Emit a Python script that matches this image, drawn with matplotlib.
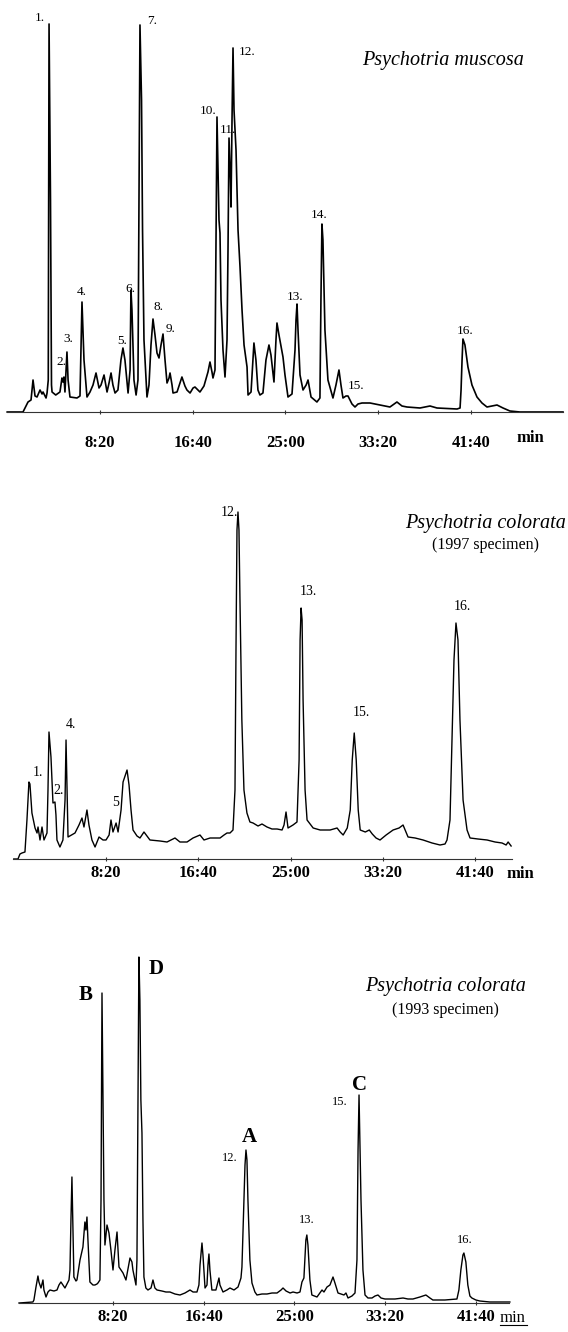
import matplotlib
matplotlib.use("Agg")
import matplotlib.pyplot as plt
from matplotlib.lines import Line2D

plt.rcParams['font.family'] = ['Liberation Serif', 'DejaVu Serif']

# --- data: retention time (min) and detector signal (arbitrary units) ---

# Psychotria muscosa
t_musc = [0.00, 1.42, 1.87, 2.14, 2.32, 2.50, 2.68, 2.95, 3.13, 3.22, 3.49, 3.58, 3.69, 3.76, 3.89, 3.98,
          4.03, 4.36, 4.74, 4.92, 5.01, 5.10, 5.19, 5.37, 5.47, 5.64, 6.27, 6.54, 6.72, 6.90, 7.17, 7.44,
          7.71, 7.98, 8.25, 8.43, 8.70, 8.97, 9.15, 9.33, 9.50, 9.69, 9.95, 10.22, 10.40, 10.58, 10.86,
          11.04, 11.12, 11.21, 11.39, 11.58, 11.75, 11.84, 11.93, 12.07, 12.16, 12.29, 12.56, 12.74,
          12.92, 13.10, 13.28, 13.46, 13.64, 13.82, 14.00, 14.18, 14.36, 14.54, 14.63, 14.81, 14.90,
          15.26, 15.70, 15.97, 16.15, 16.43, 16.70, 16.87, 17.14, 17.32, 17.68, 18.04, 18.22, 18.40,
          18.49, 18.67, 18.76, 18.85, 18.94, 19.03, 19.12, 19.21, 19.39, 19.57, 19.75, 19.84, 19.93,
          20.06, 20.11, 20.20, 20.29, 20.38, 20.56, 20.74, 20.92, 21.10, 21.28, 21.55, 21.64, 21.91,
          22.17, 22.35, 22.53, 22.71, 22.98, 23.25, 23.52, 23.70, 23.97, 24.15, 24.24, 24.42, 24.78,
          24.96, 25.23, 25.59, 25.86, 25.95, 26.04, 26.13, 26.31, 26.58, 26.86, 27.03, 27.30, 27.83,
          28.10, 28.19, 28.28, 28.37, 28.55, 28.82, 29.27, 29.54, 29.81, 29.99, 30.17, 30.44, 30.62,
          30.98, 31.25, 31.52, 31.88, 32.60, 33.50, 34.39, 35.02, 35.47, 35.92, 37.09, 37.99, 38.62,
          40.42, 40.69, 40.78, 40.87, 40.95, 41.13, 41.40, 41.76, 42.21, 42.66, 43.11, 43.56, 44.01,
          44.55, 45.17, 46.07, 49.94]
s_musc = [0, 0, 10, 12, 32, 16, 15, 22, 18, 20, 14, 19, 32, 388, 212, 27,
          20, 17, 20, 34, 30, 35, 20, 60, 32, 15, 14, 16, 110, 52, 15, 20,
          27, 39, 24, 27, 37, 20, 29, 39, 27, 19, 22, 52, 64, 52, 19,
          42, 122, 102, 32, 17, 32, 212, 387, 312, 182, 72, 15, 27,
          67, 93, 77, 59, 54, 67, 78, 52, 29, 34, 39, 27, 19,
          20, 35, 26, 22, 19, 24, 25, 22, 20, 26, 40, 50, 40,
          34, 42, 162, 295, 242, 192, 179, 112, 62, 35, 72, 162, 274,
          232, 205, 292, 364, 302, 262, 182, 145, 102, 67, 45, 17, 20,
          69, 52, 22, 17, 19, 52, 67, 57, 30, 72, 89, 77, 55,
          37, 15, 18, 62, 92, 108, 82, 37, 22, 27, 32, 15, 10,
          14, 112, 188, 172, 82, 32, 14, 27, 42, 27, 14, 16, 16,
          8, 5, 8, 9, 9, 7, 5, 10, 6, 5, 4, 6, 4,
          3, 4, 22, 52, 73, 67, 45, 27, 15, 9, 5, 6, 7,
          4, 1, 0, 0]

# Psychotria colorata, 1997 specimen
t_col97 = [0.00, 0.38, 0.56, 0.74, 1.01, 1.19, 1.37, 1.46, 1.64, 1.92, 2.10, 2.19, 2.37, 2.55, 2.73, 3.00,
           3.09, 3.18, 3.27, 3.36, 3.54, 3.72, 3.81, 3.90, 4.17, 4.44, 4.63, 4.72, 4.81, 4.90, 5.53,
           5.89, 6.16, 6.34, 6.61, 6.79, 7.06, 7.34, 7.70, 8.06, 8.33, 8.61, 8.78, 8.96, 9.24, 9.42,
           9.69, 9.87, 10.23, 10.41, 10.59, 10.77, 11.13, 11.40, 11.76, 12.03, 12.30, 13.21, 13.84,
           14.56, 15.01, 15.65, 16.19, 16.82, 17.18, 17.73, 18.63, 18.99, 19.26, 19.53, 19.80, 19.98,
           20.07, 20.16, 20.25, 20.34, 20.43, 20.60, 20.79, 21.06, 21.33, 21.61, 22.06, 22.42, 22.87,
           23.32, 23.78, 24.23, 24.41, 24.59, 24.77, 25.22, 25.58, 25.77, 25.86, 25.95, 26.04, 26.13,
           26.31, 26.49, 27.04, 27.67, 28.57, 29.20, 29.48, 29.75, 30.12, 30.39, 30.57, 30.75, 30.93,
           31.11, 31.29, 31.75, 32.11, 32.38, 32.72, 33.08, 33.63, 34.26, 34.80, 35.16, 35.61, 36.25,
           36.97, 37.78, 38.50, 38.95, 39.13, 39.40, 39.58, 39.76, 39.94, 40.12, 40.30, 40.58, 40.94,
           41.21, 41.93, 42.75, 43.47, 44.10, 44.47, 44.65, 44.92]
s_col97 = [0, 0, 5, 6, 7, 39, 77, 75, 46, 31, 26, 32, 19, 32, 19, 26,
           69, 127, 114, 102, 56, 57, 44, 19, 12, 19, 59, 119, 69, 22, 26,
           34, 41, 32, 49, 34, 19, 12, 22, 19, 19, 24, 39, 27, 36, 27,
           49, 77, 89, 74, 49, 29, 23, 21, 27, 23, 19, 18, 17,
           21, 17, 17, 21, 24, 19, 21, 21, 24, 26, 26, 29, 69,
           209, 329, 347, 329, 259, 139, 69, 46, 37, 36, 33, 35, 32,
           30, 30, 29, 34, 47, 31, 34, 37, 99, 219, 251, 239, 159,
           69, 39, 31, 29, 29, 31, 27, 24, 31, 49, 99, 126, 99,
           49, 29, 27, 29, 25, 21, 19, 24, 29, 31, 34, 22, 21,
           19, 16, 14, 15, 19, 39, 119, 199, 236, 219, 139, 59, 29,
           21, 20, 19, 17, 16, 14, 17, 13]

# Psychotria colorata, 1993 specimen
t_col93 = [-0.29, 0.99, 1.08, 1.27, 1.45, 1.54, 1.73, 1.91, 2.00, 2.19, 2.37, 2.55, 2.92, 3.20, 3.38, 3.56,
           3.75, 3.93, 4.11, 4.30, 4.39, 4.48, 4.57, 4.66, 4.75, 4.94, 5.03, 5.31, 5.58, 5.67, 5.76,
           5.85, 5.95, 6.04, 6.22, 6.50, 6.68, 6.87, 6.96, 7.14, 7.24, 7.33, 7.42, 7.51, 7.60, 7.79,
           7.97, 8.15, 8.34, 8.52, 8.71, 8.89, 9.07, 9.26, 9.53, 9.90, 10.08, 10.17, 10.45, 10.54,
           10.63, 10.72, 10.81, 10.90, 11.00, 11.09, 11.18, 11.36, 11.55, 11.83, 12.01, 12.19, 12.38,
           12.83, 13.20, 13.57, 14.03, 14.49, 14.95, 15.41, 15.69, 16.05, 16.23, 16.33, 16.51, 16.60,
           16.79, 16.97, 17.06, 17.15, 17.24, 17.42, 17.79, 17.98, 18.07, 18.16, 18.44, 18.80, 19.08,
           19.45, 19.82, 20.09, 20.18, 20.36, 20.46, 20.55, 20.64, 20.73, 20.91, 21.10, 21.37, 21.56,
           22.02, 22.48, 22.94, 23.40, 23.77, 23.95, 24.23, 24.60, 24.87, 25.24, 25.51, 25.69, 25.87,
           25.96, 26.05, 26.14, 26.24, 26.42, 26.60, 27.07, 27.34, 27.53, 27.71, 27.99, 28.26, 28.54,
           28.72, 29.00, 29.27, 29.55, 29.73, 29.92, 30.28, 30.56, 30.74, 30.84, 30.93, 31.02, 31.11,
           31.29, 31.48, 31.75, 32.12, 32.40, 32.67, 32.95, 33.31, 34.23, 34.97, 35.42, 35.88, 36.52,
           37.07, 37.44, 37.71, 38.81, 39.92, 40.10, 40.28, 40.47, 40.56, 40.74, 40.92, 41.11, 41.29,
           41.66, 42.02, 42.94, 44.78]
s_col93 = [0, 1, 3, 16, 27, 21, 15, 23, 13, 6, 11, 13, 12, 13, 18, 21,
           18, 15, 19, 23, 33, 83, 126, 73, 26, 22, 23, 43, 56, 68, 81,
           73, 86, 63, 21, 18, 18, 19, 20, 23, 103, 310, 203, 103, 58, 78,
           70, 53, 33, 53, 71, 36, 33, 30, 23, 45, 41, 33, 18, 43,
           203, 346, 303, 203, 170, 83, 26, 15, 13, 15, 23, 15, 13,
           12, 11, 11, 9, 8, 10, 13, 11, 11, 18, 38, 60, 48,
           15, 18, 38, 49, 33, 13, 13, 21, 25, 18, 11, 13, 15,
           13, 16, 25, 36, 103, 138, 153, 143, 103, 43, 20, 11, 8,
           9, 9, 10, 10, 13, 15, 12, 10, 11, 10, 11, 21, 25,
           43, 63, 68, 58, 23, 8, 6, 10, 13, 11, 16, 18, 26,
           20, 10, 9, 8, 10, 5, 7, 10, 43, 153, 208, 153, 103,
           33, 8, 5, 5, 7, 8, 5, 4, 4, 5, 4, 4, 6,
           8, 5, 3, 3, 4, 13, 33, 48, 50, 41, 18, 7, 5,
           3, 2, 1, 1]

# peak labels: (text, time, signal)
lab_musc = [("1.", 2.95, 394), ("2.", 4.83, 50), ("3.", 5.46, 73), ("4.", 6.72, 120), ("5.", 10.31, 71),
            ("6.", 11.03, 123), ("7.", 13.01, 391), ("8.", 13.55, 105), ("9.", 14.72, 83),
            ("10.", 18.04, 301), ("11.", 19.84, 282), ("12.", 21.54, 360), ("13.", 25.86, 115),
            ("14.", 28.01, 197), ("15.", 31.34, 26), ("16.", 41.13, 81)]
lab_col97 = [("1.", 2.19, 87), ("2.", 4.08, 69), ("4.", 5.17, 134), ("5", 9.23, 57), ("12.", 19.44, 346),
             ("13.", 26.58, 267), ("15.", 31.36, 146), ("16.", 40.49, 252)]
lab_col93 = [("12.", 19.08, 145), ("13.", 26.15, 83), ("15.", 29.18, 201), ("16.", 40.66, 63)]
letters_col93 = [("B", 5.86, 308), ("D", 12.29, 334), ("A", 20.83, 166), ("C", 30.93, 218)]

tick_min = [500 / 60, 1000 / 60, 1500 / 60, 2000 / 60, 2500 / 60]
tick_lab = ["8:20", "16:40", "25:00", "33:20", "41:40"]

W, H = 568, 1332
fig = plt.figure(figsize=(W / 100, H / 100), dpi=100)


def make_ax(x0, x1, ybase, height, xlim, ylim, pad):
    ax = fig.add_axes([x0 / W, (H - ybase) / H, (x1 - x0) / W, height / H])
    ax.set_xlim(*xlim)
    ax.set_ylim(*ylim)
    ax.patch.set_visible(False)
    for sp in ['left', 'right', 'top']:
        ax.spines[sp].set_visible(False)
    ax.spines['bottom'].set_color('#333333')
    ax.spines['bottom'].set_linewidth(0.8)
    ax.set_yticks([])
    ax.set_xticks(tick_min)
    ax.set_xticklabels(tick_lab, fontsize=12, fontweight='bold')
    ax.tick_params(axis='x', direction='inout', length=3, width=0.8, color='#333333', pad=pad)
    return ax


# panel 1
ax1 = make_ax(7.2, 563, 412, 400, (0, 49.94), (0, 400), 15)
ax1.plot(t_musc, s_musc, color='black', lw=1.2, clip_on=False)
for txt, x, y in lab_musc:
    ax1.text(x, y, txt, fontsize=9.5, ha='center', va='center')
ax1.text(39.16, 352, "Psychotria muscosa", fontsize=14.5, style='italic', ha='center', va='center')
fig.text(530 / W, 1 - 442 / H, "min", fontsize=12, fontweight='bold', ha='center', va='baseline')

# panel 2
ax2 = make_ax(13, 512, 859, 360, (-0.07, 45.0), (0, 360), 3)
ax2.plot(t_col97, s_col97, color='black', lw=1.0, clip_on=False)
for txt, x, y in lab_col97:
    ax2.text(x, y, txt, fontsize=10, ha='center', va='center')
ax2.text(42.57, 335, "Psychotria colorata", fontsize=14.5, style='italic', ha='center', va='center',
         clip_on=False)
ax2.text(42.57, 314, "(1997 specimen)", fontsize=11.5, ha='center', va='center', clip_on=False)
fig.text(520 / W, 1 - 878 / H, "min", fontsize=12, fontweight='bold', ha='center', va='baseline')

# panel 3
ax3 = make_ax(19, 509, 1303, 360, (-0.29, 44.70), (0, 360), 2.5)
ax3.plot(t_col93, s_col93, color='black', lw=1.0, clip_on=False)
for txt, x, y in lab_col93:
    ax3.text(x, y, txt, fontsize=9, ha='center', va='center')
for txt, x, y in letters_col93:
    ax3.text(x, y, txt, fontsize=15, fontweight='bold', ha='center', va='center')
ax3.text(38.83, 317, "Psychotria colorata", fontsize=14.5, style='italic', ha='center', va='center')
ax3.text(38.83, 293, "(1993 specimen)", fontsize=11.5, ha='center', va='center')
fig.text(513 / W, 1 - 1322 / H, "min", fontsize=12, ha='center', va='baseline')
fig.add_artist(Line2D([500 / W, 527 / W], [1 - 1325 / H, 1 - 1325 / H], color='black', lw=0.8))

fig.savefig("out.png", dpi=100, facecolor='white')
